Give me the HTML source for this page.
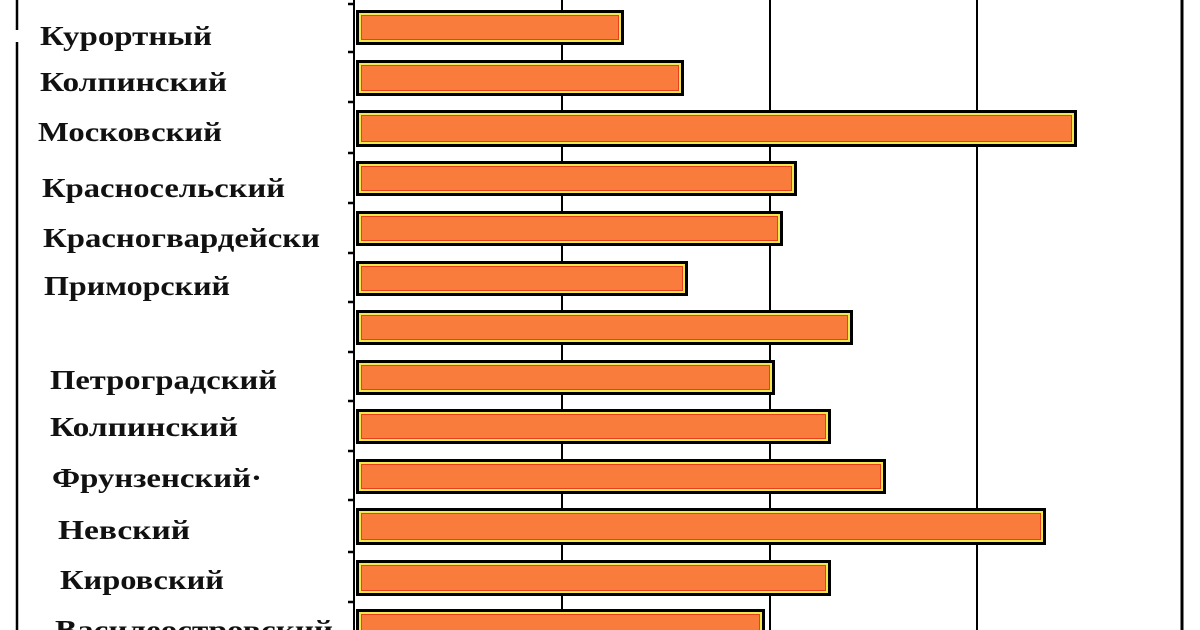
<!DOCTYPE html>
<html><head><meta charset="utf-8"><style>
html,body{margin:0;padding:0;background:#fff;width:1200px;height:630px;overflow:hidden}
text{font-family:"Liberation Serif","DejaVu Serif",serif;font-weight:bold;font-size:27px;fill:#111}
</style></head><body>
<svg width="1200" height="630" viewBox="0 0 1200 630" xmlns="http://www.w3.org/2000/svg">
<rect width="1200" height="630" fill="#fff"/>
<line x1="17" y1="0" x2="17" y2="30" stroke="#000" stroke-width="2.5"/>
<line x1="17" y1="42" x2="17" y2="630" stroke="#000" stroke-width="2.5"/>
<line x1="1182" y1="0" x2="1182" y2="630" stroke="#000" stroke-width="3"/>
<g stroke="#000" stroke-width="2">
<line x1="562" y1="0" x2="562" y2="630"/>
<line x1="770" y1="0" x2="770" y2="630"/>
<line x1="977" y1="0" x2="977" y2="630"/>
<line x1="354" y1="0" x2="354" y2="630"/>
</g>
<g stroke="#000" stroke-width="2.5">
<line x1="348" y1="4" x2="354" y2="4"/><line x1="348" y1="52" x2="354" y2="52"/>
<line x1="348" y1="102" x2="354" y2="102"/><line x1="348" y1="153" x2="354" y2="153"/>
<line x1="348" y1="203" x2="354" y2="203"/><line x1="348" y1="253" x2="354" y2="253"/>
<line x1="348" y1="302" x2="354" y2="302"/><line x1="348" y1="352" x2="354" y2="352"/>
<line x1="348" y1="401" x2="354" y2="401"/><line x1="348" y1="451" x2="354" y2="451"/>
<line x1="348" y1="500" x2="354" y2="500"/><line x1="348" y1="552" x2="354" y2="552"/>
<line x1="348" y1="602" x2="354" y2="602"/>
</g>
<g>
<rect x="356" y="10" width="268" height="35" fill="#000"/><rect x="359" y="13" width="262" height="29" fill="#f5e84a"/><rect x="361" y="15" width="258" height="25" fill="#e8401c"/><rect x="362" y="16" width="256" height="23" fill="#f97c3c"/>
<rect x="356" y="60" width="328" height="36" fill="#000"/><rect x="359" y="63" width="322" height="30" fill="#f5e84a"/><rect x="361" y="65" width="318" height="26" fill="#e8401c"/><rect x="362" y="66" width="316" height="24" fill="#f97c3c"/>
<rect x="356" y="110" width="721" height="37" fill="#000"/><rect x="359" y="113" width="715" height="31" fill="#f5e84a"/><rect x="361" y="115" width="711" height="27" fill="#e8401c"/><rect x="362" y="116" width="709" height="25" fill="#f97c3c"/>
<rect x="356" y="161" width="441" height="35" fill="#000"/><rect x="359" y="164" width="435" height="29" fill="#f5e84a"/><rect x="361" y="166" width="431" height="25" fill="#e8401c"/><rect x="362" y="167" width="429" height="23" fill="#f97c3c"/>
<rect x="356" y="211" width="427" height="35" fill="#000"/><rect x="359" y="214" width="421" height="29" fill="#f5e84a"/><rect x="361" y="216" width="417" height="25" fill="#e8401c"/><rect x="362" y="217" width="415" height="23" fill="#f97c3c"/>
<rect x="356" y="261" width="332" height="35" fill="#000"/><rect x="359" y="264" width="326" height="29" fill="#f5e84a"/><rect x="361" y="266" width="322" height="25" fill="#e8401c"/><rect x="362" y="267" width="320" height="23" fill="#f97c3c"/>
<rect x="356" y="310" width="497" height="35" fill="#000"/><rect x="359" y="313" width="491" height="29" fill="#f5e84a"/><rect x="361" y="315" width="487" height="25" fill="#e8401c"/><rect x="362" y="316" width="485" height="23" fill="#f97c3c"/>
<rect x="356" y="360" width="419" height="35" fill="#000"/><rect x="359" y="363" width="413" height="29" fill="#f5e84a"/><rect x="361" y="365" width="409" height="25" fill="#e8401c"/><rect x="362" y="366" width="407" height="23" fill="#f97c3c"/>
<rect x="356" y="409" width="475" height="35" fill="#000"/><rect x="359" y="412" width="469" height="29" fill="#f5e84a"/><rect x="361" y="414" width="465" height="25" fill="#e8401c"/><rect x="362" y="415" width="463" height="23" fill="#f97c3c"/>
<rect x="356" y="459" width="530" height="35" fill="#000"/><rect x="359" y="462" width="524" height="29" fill="#f5e84a"/><rect x="361" y="464" width="520" height="25" fill="#e8401c"/><rect x="362" y="465" width="518" height="23" fill="#f97c3c"/>
<rect x="356" y="508" width="690" height="37" fill="#000"/><rect x="359" y="511" width="684" height="31" fill="#f5e84a"/><rect x="361" y="513" width="680" height="27" fill="#e8401c"/><rect x="362" y="514" width="678" height="25" fill="#f97c3c"/>
<rect x="356" y="560" width="475" height="36" fill="#000"/><rect x="359" y="563" width="469" height="30" fill="#f5e84a"/><rect x="361" y="565" width="465" height="26" fill="#e8401c"/><rect x="362" y="566" width="463" height="24" fill="#f97c3c"/>
<rect x="356" y="609" width="409" height="40" fill="#000"/><rect x="359" y="612" width="403" height="34" fill="#f5e84a"/><rect x="361" y="614" width="399" height="30" fill="#e8401c"/><rect x="362" y="615" width="397" height="28" fill="#f97c3c"/>
</g>
<text x="40" y="45" textLength="172" lengthAdjust="spacingAndGlyphs">Курортный</text>
<text x="40" y="91" textLength="187" lengthAdjust="spacingAndGlyphs">Колпинский</text>
<text x="38" y="141" textLength="184" lengthAdjust="spacingAndGlyphs">Московский</text>
<text x="42" y="197" textLength="243" lengthAdjust="spacingAndGlyphs">Красносельский</text>
<text x="43" y="247" textLength="277" lengthAdjust="spacingAndGlyphs">Красногвардейски</text>
<text x="44" y="295" textLength="186" lengthAdjust="spacingAndGlyphs">Приморский</text>
<text x="50" y="389" textLength="227" lengthAdjust="spacingAndGlyphs">Петроградский</text>
<text x="50" y="436" textLength="188" lengthAdjust="spacingAndGlyphs">Колпинский</text>
<text x="52" y="487" textLength="210" lengthAdjust="spacingAndGlyphs">Фрунзенский·</text>
<text x="58" y="539" textLength="132" lengthAdjust="spacingAndGlyphs">Невский</text>
<text x="60" y="589" textLength="164" lengthAdjust="spacingAndGlyphs">Кировский</text>
<text x="55" y="639" textLength="278" lengthAdjust="spacingAndGlyphs">Василеостровский</text>
</svg>
</body></html>
